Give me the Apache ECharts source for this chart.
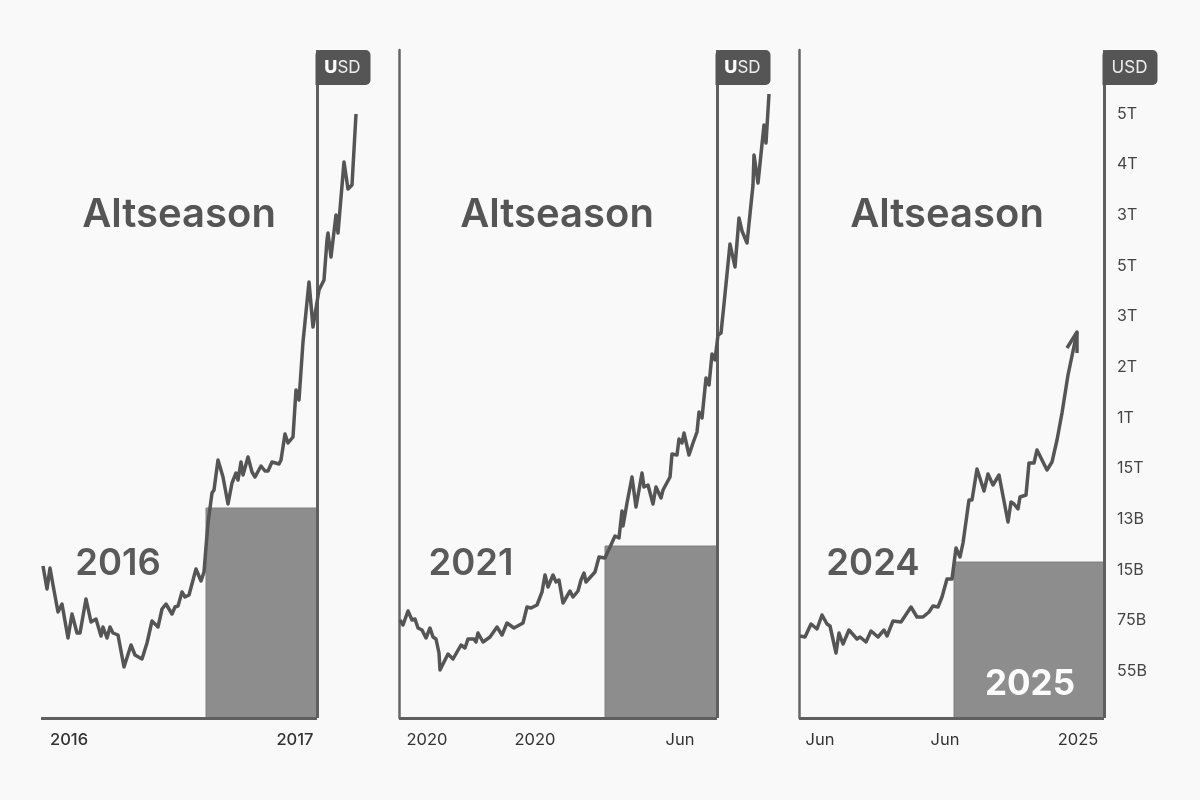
<!DOCTYPE html>
<html>
<head>
<meta charset="utf-8">
<title>Altseason</title>
<style>
	html,body{margin:0;padding:0;background:#f9f9f9;}
	#charts{width:1200px;height:800px;}
</style>
<script src="https://cdn.jsdelivr.net/npm/echarts@6/dist/echarts.min.js"></script>
</head>
<body>
<div id="charts"></div>
<script>
// [day, level]
var line2016 = [[2,152],[6,129],[9,150],[12,133],[14,131],[17,106],[21,114],[27,80],[31,104],[36,85],[39,85],[45,119],[50,96],[55,99],[60,82],[62,91],[66,80],[69,91],[72,85],[77,83],[83,51],[90,73],[94,63],[101,59],[106,75],[108,76],[111,97],[117,91],[121,109],[125,114],[131,104],[134,111],[137,112],[141,126],[144,121],[148,123],[155,149],[160,137],[163,146],[165,171],[167,195],[171,225],[173,228],[177,258],[182,241],[187,214],[191,235],[195,245],[197,238],[200,256],[202,243],[207,261],[211,246],[214,241],[220,252],[224,247],[227,247],[231,256],[238,254],[240,258],[244,284],[247,275],[252,281],[255,328],[258,318],[262,376],[264,376],[268,436],[272,391],[274,391],[278,428],[283,438],[286,478],[287,485],[290,461],[295,503],[297,485],[303,556],[307,529],[311,533],[315,604]];
var line2021 = [[1,98],[4,93],[9,107],[13,98],[16,99],[19,90],[23,88],[27,80],[31,90],[34,81],[37,79],[40,65],[41,48],[43,49],[49,64],[54,59],[62,73],[66,70],[69,79],[75,79],[77,76],[79,85],[84,76],[91,81],[98,91],[103,83],[108,95],[115,90],[124,95],[128,111],[132,110],[138,113],[143,126],[146,143],[149,131],[154,143],[157,136],[160,138],[164,115],[166,116],[171,127],[174,121],[179,127],[182,138],[185,145],[187,136],[196,146],[200,161],[206,160],[216,182],[220,180],[223,207],[224,192],[228,215],[233,241],[237,211],[243,245],[245,231],[249,233],[254,214],[257,231],[259,231],[262,220],[264,228],[266,226],[271,241],[273,264],[278,263],[280,279],[283,275],[285,285],[290,263],[294,275],[298,286],[300,306],[303,300],[307,340],[310,333],[313,364],[316,358],[319,383],[322,385],[325,414],[327,415],[331,474],[333,475],[336,451],[340,500],[343,487],[345,488],[348,475],[354,533],[355,563],[359,535],[365,593],[367,575],[370,624]];
var line2024 = [[1,82],[6,81],[12,94],[18,89],[23,103],[25,104],[28,94],[31,92],[37,65],[40,85],[44,74],[50,88],[58,79],[61,81],[67,76],[72,87],[79,81],[85,88],[88,82],[94,97],[102,96],[112,111],[118,101],[124,101],[130,106],[134,112],[139,111],[143,121],[148,139],[153,139],[157,170],[161,161],[164,175],[170,218],[173,218],[178,249],[185,227],[189,244],[194,233],[200,243],[209,196],[212,216],[215,214],[219,209],[221,221],[227,223],[230,255],[235,255],[238,268],[243,258],[248,248],[253,256],[258,278],[263,305],[269,343],[278,386]];
var arrow2024 = [[268,370],[278,386],[278,365]];

var panelLines = [line2016, line2021, line2024];
var panelTitles = ['Altseason', 'Altseason', 'Altseason'];
var panelYears = ['2016', '2021', '2024'];

// last day before the price axis, and where the grey block starts / how high it goes
var panelDays = [276, 318, 305];
var blockStart = [165, 206, 155];
var blockLevel = [210, 172, 156];

var xTickValues = [[28, 254], [28, 136, 281], [21, 146, 279]];
var xTickLabels = [['2016', '2017'], ['2020', '2020', 'Jun'], ['Jun', 'Jun', '2025']];

var usdTicks = [604, 554, 503, 452, 402, 351, 300, 250, 199, 148, 98, 47];
var usdLabels = ['5T', '4T', '3T', '5T', '3T', '2T', '1T', '15T', '13B', '15B', '75B', '55B'];

var levelMax = 668;
var inkColor = '#555';
var fontName = 'Inter, "Liberation Sans", sans-serif';

// 折线会越过价格轴，所以网格比面板宽
var gridLeft = [41, 399, 799];
var gridDays = [330, 380, 305];
var titleX = [179, 557, 947];
var yearX = [118, 471, 873];

function xLabelFormatter(i){
	return function(value){
		return xTickLabels[i][xTickValues[i].indexOf(value)];
	};
}

function buildOption(){
	var grids = [], xAxes = [], yAxes = [], series = [], graphics = [];
	for(var i=0;i<3;i++){
		grids.push({left:gridLeft[i], top:50, width:gridDays[i], height:levelMax});
		xAxes.push({
			type:'value',
			gridIndex:i,
			min:0,
			max:gridDays[i],
			splitLine:{show:false},
			axisTick:{show:false},
			axisLine:{show:false},
			axisLabel:{
				customValues:xTickValues[i],
				margin:14,
				fontFamily:fontName,
				fontSize:16.5,
				fontWeight:i==0 ? 500 : 400,
				color:'#333',
				formatter:xLabelFormatter(i)
			}
		});
		// 右侧刻度只有最后一幅显示
		yAxes.push({
			type:'value',
			gridIndex:i,
			position:'right',
			min:0,
			max:levelMax,
			splitLine:{show:false},
			axisTick:{show:false},
			axisLine:{show:false},
			axisLabel:{
				show:i==2,
				customValues:usdTicks,
				margin:13,
				fontFamily:fontName,
				fontSize:16,
				color:'#444',
				formatter:function(value){
					return usdLabels[usdTicks.indexOf(value)];
				}
			}
		});
		var yIndex = yAxes.length-1;
		if(i>0){
			yAxes.push({
				type:'value',
				gridIndex:i,
				position:'left',
				min:0,
				max:levelMax,
				splitLine:{show:false},
				axisTick:{show:false},
				axisLabel:{show:false},
				axisLine:{show:true, onZero:false, lineStyle:{color:'#666', width:2.5}}
			});
		}
		series.push({
			type:'line',
			xAxisIndex:i,
			yAxisIndex:yIndex,
			data:panelLines[i],
			showSymbol:false,
			z:5,
			lineStyle:{color:inkColor, width:3.5, join:'round'},
			markArea:{
				silent:true,
				itemStyle:{color:'#8d8d8d', borderColor:'#808080', borderWidth:1},
				data:[[{coord:[blockStart[i], blockLevel[i]]}, {coord:[panelDays[i], 0]}]]
			},
			// 底线和价格轴
			markLine:{
				silent:true,
				symbol:'none',
				label:{show:false},
				lineStyle:{type:'solid', color:'#5f5f5f', width:3},
				data:[
					[{coord:[0, 0]}, {coord:[panelDays[i], 0]}],
					[{coord:[panelDays[i], 0]}, {coord:[panelDays[i], levelMax]}]
				]
			}
		});
		if(i==2){
			series.push({
				type:'line',
				xAxisIndex:i,
				yAxisIndex:yIndex,
				data:arrow2024,
				showSymbol:false,
				z:5,
				lineStyle:{color:inkColor, width:3.5, join:'round'}
			});
		}
		graphics.push({
			type:'text', z:10, x:titleX[i], y:215,
			style:{text:panelTitles[i], fill:'#555', font:'600 40px '+fontName, align:'center', verticalAlign:'middle'}
		});
		graphics.push({
			type:'text', z:10, x:yearX[i], y:564,
			style:{text:panelYears[i], fill:'#5a5a5a', font:'600 36.5px '+fontName, align:'center', verticalAlign:'middle'}
		});
		// USD标签
		var badgeX = gridLeft[i]+panelDays[i]-1.5;
		graphics.push({
			type:'rect', z:10, x:badgeX, y:50,
			shape:{width:55, height:35, r:[5,5,5,0]},
			style:{fill:'#555'}
		});
		graphics.push({
			type:'text', z:11, x:badgeX+27, y:67.5,
			style:{
				rich:i==2 ? {} : {
					u:{fill:'#fff', font:'800 18px '+fontName},
					s:{fill:'#eee', font:'400 17px '+fontName}
				},
				text:i==2 ? 'USD' : '{u|U}{s|SD}',
				fill:'#eee',
				font:'400 17px '+fontName,
				align:'center',
				verticalAlign:'middle'
			}
		});
	}
	graphics.push({
		type:'text', z:11, x:1030, y:684,
		style:{text:'2025', fill:'#fbfbfb', font:'700 35px '+fontName, align:'center', verticalAlign:'middle'}
	});
	return {
		animation:false,
		backgroundColor:'#f9f9f9',
		grid:grids,
		xAxis:xAxes,
		yAxis:yAxes,
		series:series,
		graphic:graphics
	};
}

var charts = echarts.init(document.getElementById("charts"));
charts.setOption(buildOption());
</script>
</body>
</html>
